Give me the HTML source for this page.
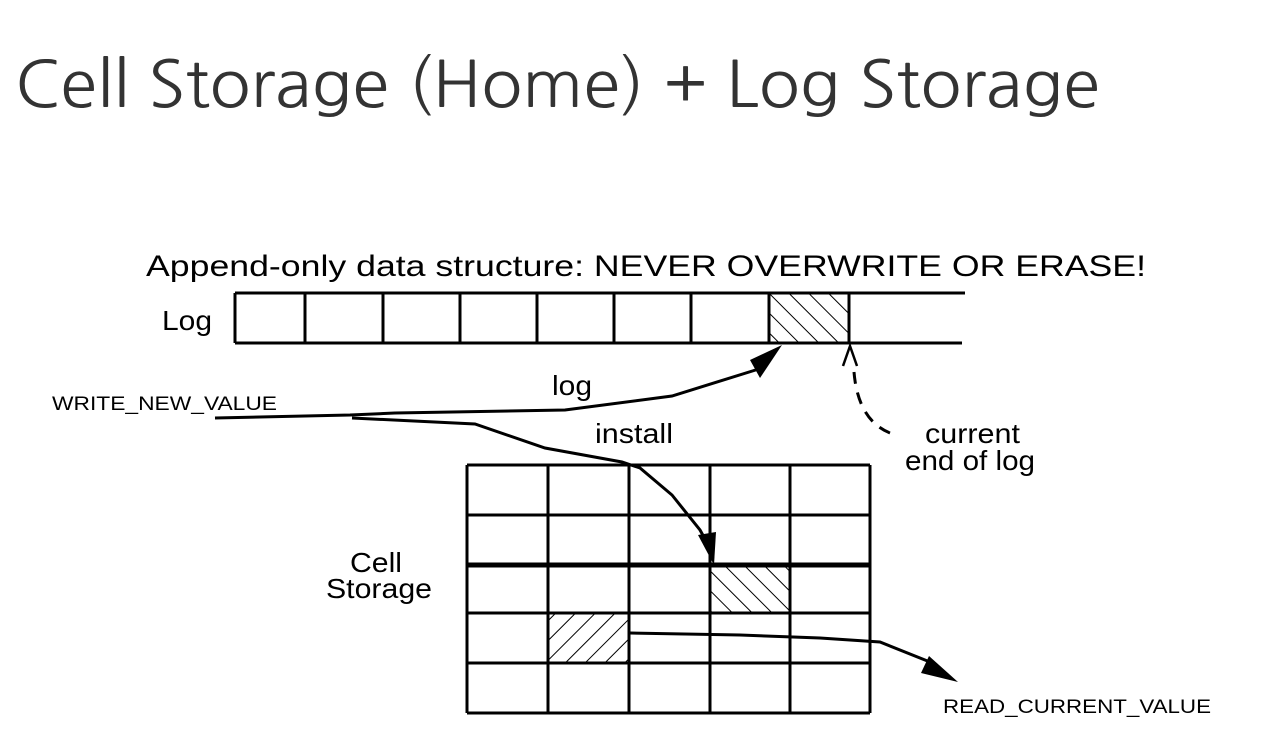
<!DOCTYPE html>
<html><head><meta charset="utf-8"><style>
html,body{margin:0;padding:0;background:#fff;}
svg{display:block;}
</style></head><body>
<svg width="1274" height="756" viewBox="0 0 1274 756" xmlns="http://www.w3.org/2000/svg">
<defs>
<pattern id="hb" width="14" height="14" patternUnits="userSpaceOnUse" patternTransform="rotate(-45)">
<line x1="0" y1="0" x2="0" y2="14" stroke="#000" stroke-width="2"/></pattern>
<pattern id="hf" width="14" height="14" patternUnits="userSpaceOnUse" patternTransform="rotate(45)">
<line x1="0" y1="0" x2="0" y2="14" stroke="#000" stroke-width="2"/></pattern>
</defs>
<text x="15" y="107" font-family="NanumGothic, 'Liberation Sans', sans-serif" font-size="64" fill="#333" textLength="1085" lengthAdjust="spacingAndGlyphs">Cell Storage (Home) + Log Storage</text>

<g font-family="'Liberation Sans', sans-serif" fill="#000">
<text x="146" y="276" font-size="30" textLength="1000" lengthAdjust="spacingAndGlyphs">Append-only data structure: NEVER OVERWRITE OR ERASE!</text>
<text x="162" y="330" font-size="28" textLength="50" lengthAdjust="spacingAndGlyphs">Log</text>
<text x="52" y="410" font-size="19" textLength="225" lengthAdjust="spacingAndGlyphs">WRITE_NEW_VALUE</text>
<text x="552" y="395" font-size="28" textLength="40" lengthAdjust="spacingAndGlyphs">log</text>
<text x="595" y="443" font-size="28" textLength="78" lengthAdjust="spacingAndGlyphs">install</text>
<text x="925" y="443" font-size="28" textLength="95" lengthAdjust="spacingAndGlyphs">current</text>
<text x="905" y="470" font-size="28" textLength="130" lengthAdjust="spacingAndGlyphs">end of log</text>
<text x="350" y="572" font-size="28" textLength="52" lengthAdjust="spacingAndGlyphs">Cell</text>
<text x="326" y="598" font-size="28" textLength="106" lengthAdjust="spacingAndGlyphs">Storage</text>
<text x="943" y="713" font-size="19" textLength="268" lengthAdjust="spacingAndGlyphs">READ_CURRENT_VALUE</text>
</g>

<rect x="769" y="293" width="80" height="50" fill="url(#hb)"/>
<rect x="710" y="565" width="80" height="48" fill="url(#hb)"/>
<rect x="548" y="613" width="81" height="50" fill="url(#hf)"/>

<g stroke="#000" stroke-width="3" fill="none">
<line x1="235" y1="293" x2="965" y2="293"/>
<line x1="235" y1="343" x2="962" y2="343"/>
<line x1="235" y1="293" x2="235" y2="343"/>
<line x1="305" y1="293" x2="305" y2="343"/>
<line x1="383" y1="293" x2="383" y2="343"/>
<line x1="460" y1="293" x2="460" y2="343"/>
<line x1="537" y1="293" x2="537" y2="343"/>
<line x1="614" y1="293" x2="614" y2="343"/>
<line x1="691" y1="293" x2="691" y2="343"/>
<line x1="769" y1="293" x2="769" y2="343"/>
<line x1="849" y1="293" x2="849" y2="343"/>
<line x1="467" y1="465" x2="870" y2="465"/>
<line x1="467" y1="515" x2="870" y2="515"/>
<line x1="467" y1="565" x2="870" y2="565" stroke-width="5"/>
<line x1="467" y1="613" x2="870" y2="613"/>
<line x1="467" y1="663" x2="870" y2="663"/>
<line x1="467" y1="713" x2="870" y2="713"/>
<line x1="467" y1="465" x2="467" y2="713"/>
<line x1="548" y1="465" x2="548" y2="713"/>
<line x1="629" y1="465" x2="629" y2="713"/>
<line x1="710" y1="465" x2="710" y2="713"/>
<line x1="790" y1="465" x2="790" y2="713"/>
<line x1="870" y1="465" x2="870" y2="713"/>
<polyline points="215,418 350,415 395,413 565,410 672,396 762,368"/>
<polyline points="352,418 475,424 545,448 622,462 640,468 672,495 700,530 710,548"/>
<polyline points="630,633 740,635 820,638 880,642 935,664"/>
<path d="M890,433 Q858,420 854,372" stroke-dasharray="12,9"/>
</g>
<g fill="#000">
<polygon points="782,345 750,360 760,378"/>
<polygon points="714,565 698,535 716,532"/>
<polygon points="958,682 929,656 921,673"/>
</g>
<g stroke="#000" stroke-width="2.5" fill="none">
<polyline points="843,366 850,346 857,366"/>
</g>
</svg>
</body></html>
